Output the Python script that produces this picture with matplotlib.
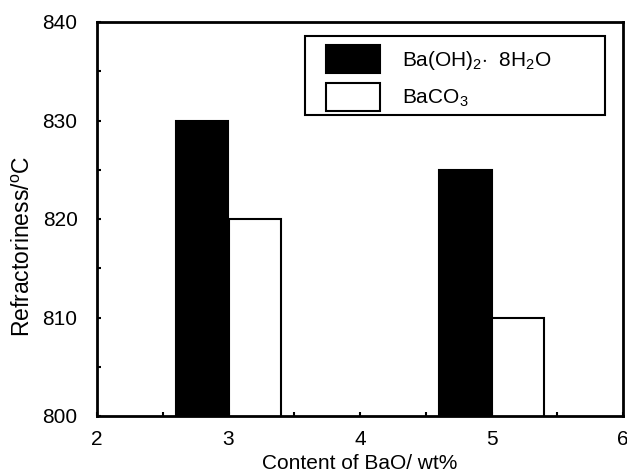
import matplotlib
matplotlib.use("Agg")
from matplotlib import pyplot as plt
from matplotlib.patches import Rectangle
from matplotlib.ticker import MultipleLocator

plt.rcParams["font.family"] = ["Liberation Sans", "DejaVu Sans"]
plt.rcParams["mathtext.fontset"] = "custom"
plt.rcParams["mathtext.rm"] = "Liberation Sans"

# data
bao_content = [3, 5]
baoh_values = [830, 825]
baco3_values = [820, 810]
series_labels = [r"Ba(OH)$\mathregular{_2}$$\cdot$  8H$\mathregular{_2}$O", r"BaCO$\mathregular{_3}$"]

bar_w = 0.4
W, H = 627, 474

fig = plt.figure(figsize=(6.27, 4.74), dpi=100)
ax = fig.add_axes([97 / W, 1 - 416 / H, 526 / W, 394 / H])

ax.bar([x - bar_w / 2 for x in bao_content], baoh_values, width=bar_w,
       color="black", edgecolor="black", linewidth=1.5, label=series_labels[0])
ax.bar([x + bar_w / 2 for x in bao_content], baco3_values, width=bar_w,
       color="white", edgecolor="black", linewidth=1.5, label=series_labels[1])

ax.set_xlim(2, 6)
ax.set_ylim(800, 840)
ax.xaxis.set_major_locator(MultipleLocator(1))
ax.xaxis.set_minor_locator(MultipleLocator(0.5))
ax.yaxis.set_major_locator(MultipleLocator(10))
ax.yaxis.set_minor_locator(MultipleLocator(5))
ax.tick_params(which="both", direction="in", labelsize=15, width=1.5, length=3)
ax.tick_params(axis="x", pad=10)
ax.tick_params(axis="y", pad=14)
for sp in ax.spines.values():
    sp.set_linewidth(2)

ax.set_xlabel("Content of BaO/ wt%", fontsize=15, labelpad=4)
fig.text(23.5 / W, 1 - 246 / H, "Refractoriness/$\\mathregular{^o}$C",
         fontsize=16.5, rotation=90, ha="center", va="center")

# legend box drawn separately so the padding matches
ax.add_patch(Rectangle((0.3954, 0.764), 0.5704, 0.2006, transform=ax.transAxes,
                       facecolor="white", edgecolor="black", linewidth=1.5, zorder=4))
leg = ax.legend(loc="upper left", bbox_to_anchor=(0.4354, 0.9416), fontsize=15,
                frameon=False, handlelength=2.6, handleheight=1.69, borderpad=0,
                labelspacing=0.48, handletextpad=1.05, borderaxespad=0)
leg.set_zorder(5)

fig.savefig("out.png", dpi=100)
plt.close(fig)
